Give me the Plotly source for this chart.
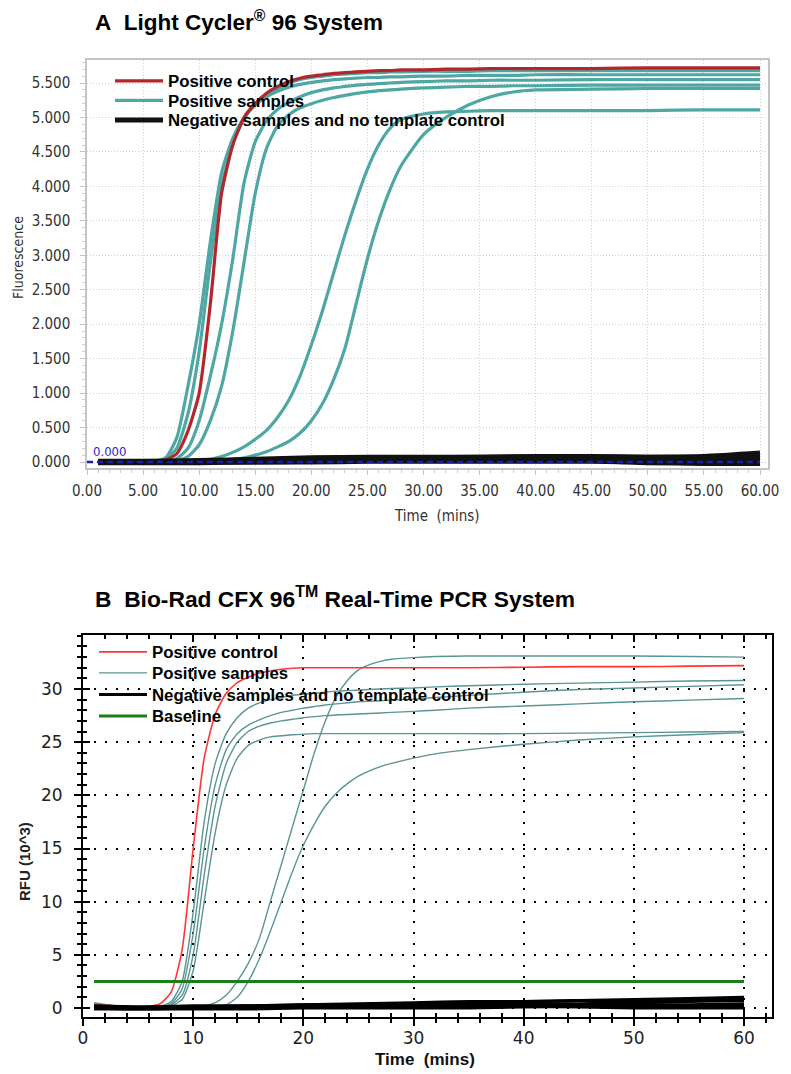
import plotly.graph_objects as go

W, H = 791, 1074
def px(x): return x / W
def py(y): return 1 - y / H

# ---------------- Panel A : Light Cycler 96 (Fluorescence vs time) ----------------
A_time = [1, 3, 5, 6, 7, 8, 9, 10, 11, 12, 13, 14, 15, 16, 17, 18, 19, 20,
          21, 22, 23, 24, 25, 26, 27, 28, 30, 32, 34, 36, 38, 40, 45, 50, 55, 60]
A_positive_control = [0.00, 0.00, 0.00, 0.01, 0.03, 0.12, 0.45, 1.00, 2.30, 3.90, 4.60, 5.00,
                      5.20, 5.35, 5.45, 5.52, 5.57, 5.60, 5.62, 5.64, 5.65, 5.66, 5.67, 5.68,
                      5.68, 5.69, 5.69, 5.70, 5.70, 5.71, 5.71, 5.71, 5.71, 5.72, 5.72, 5.72]
A_pos_1 = [0, 0, 0, 0.01, 0.06, 0.35, 1.10, 2.00, 3.20, 4.20, 4.70, 5.00, 5.20,
           5.33, 5.42, 5.50, 5.55, 5.58, 5.60, 5.62, 5.63, 5.64, 5.65, 5.65, 5.66,
           5.66, 5.67, 5.67, 5.67, 5.68, 5.68, 5.68, 5.68, 5.68, 5.68, 5.68]
A_pos_2 = [0, 0, 0, 0.01, 0.04, 0.20, 0.70, 1.60, 2.90, 4.00, 4.62, 4.98, 5.18,
           5.30, 5.38, 5.44, 5.48, 5.51, 5.53, 5.55, 5.56, 5.57, 5.58, 5.58, 5.59,
           5.59, 5.60, 5.60, 5.61, 5.61, 5.61, 5.62, 5.62, 5.62, 5.62, 5.62]
A_pos_3 = [0, 0, 0, 0, 0.01, 0.05, 0.20, 0.60, 1.25, 2.00, 2.95, 4.05, 4.65,
           4.95, 5.12, 5.22, 5.30, 5.36, 5.40, 5.43, 5.45, 5.47, 5.48, 5.49, 5.50,
           5.51, 5.52, 5.53, 5.53, 5.54, 5.54, 5.54, 5.55, 5.55, 5.55, 5.55]
A_pos_4 = [0, 0, 0, 0, 0, 0.02, 0.08, 0.25, 0.60, 1.10, 1.90, 2.90, 3.90,
           4.55, 4.88, 5.04, 5.14, 5.20, 5.25, 5.29, 5.32, 5.35, 5.37, 5.39, 5.40,
           5.41, 5.43, 5.44, 5.45, 5.45, 5.46, 5.46, 5.47, 5.47, 5.47, 5.47]
A_pos_5 = [0, 0, 0, 0, 0, 0.01, 0.01, 0.02, 0.04, 0.08, 0.14, 0.22, 0.33,
           0.46, 0.65, 0.90, 1.25, 1.70, 2.20, 2.75, 3.30, 3.80, 4.25, 4.60, 4.84,
           4.97, 5.05, 5.08, 5.09, 5.10, 5.10, 5.10, 5.10, 5.10, 5.11, 5.11]
A_pos_6 = [0, 0, 0, 0, 0, 0, 0.01, 0.01, 0.02, 0.02, 0.04, 0.06, 0.10,
           0.15, 0.22, 0.30, 0.42, 0.60, 0.85, 1.20, 1.65, 2.30, 2.95, 3.50, 3.95,
           4.30, 4.75, 5.00, 5.18, 5.30, 5.37, 5.40, 5.41, 5.42, 5.42, 5.42]
A_positive_samples = [A_pos_1, A_pos_2, A_pos_3, A_pos_4, A_pos_5, A_pos_6]

A_neg_time = [1, 5, 10, 15, 20, 25, 30, 35, 40, 45, 50, 55, 60]
A_neg_1 = [0.00, 0.00, 0.01, 0.02, 0.04, 0.05, 0.05, 0.05, 0.06, 0.06, 0.05, 0.05, 0.06]
A_neg_2 = [0.00, 0.00, 0.00, 0.01, 0.02, 0.03, 0.03, 0.04, 0.04, 0.04, 0.03, 0.03, 0.04]
A_neg_3 = [0.01, 0.01, 0.02, 0.04, 0.06, 0.07, 0.07, 0.07, 0.08, 0.08, 0.07, 0.07, 0.09]
A_neg_4 = [-0.01, -0.01, -0.01, 0.00, 0.00, 0.01, 0.01, 0.01, 0.01, 0.01, 0.00, -0.01, 0.00]
A_neg_5 = [0.00, 0.00, 0.01, 0.03, 0.05, 0.06, 0.06, 0.07, 0.07, 0.07, 0.07, 0.08, 0.13]
A_neg_6 = [0.00, 0.00, 0.00, 0.00, 0.01, 0.02, 0.02, 0.02, 0.02, 0.02, -0.01, -0.02, -0.02]
A_negatives = [A_neg_1, A_neg_2, A_neg_3, A_neg_4, A_neg_5, A_neg_6]

A_threshold_time = [0, 60]
A_threshold = [0.0, 0.0]

A_xticks = [0, 5, 10, 15, 20, 25, 30, 35, 40, 45, 50, 55, 60]
A_yticks = [0, 0.5, 1.0, 1.5, 2.0, 2.5, 3.0, 3.5, 4.0, 4.5, 5.0, 5.5]

# ---------------- Panel B : Bio-Rad CFX 96 (RFU x10^3 vs time) ----------------
B_time = [1, 3, 5, 6, 7, 8, 9, 10, 11, 12, 13, 14, 15, 16, 17, 18, 19, 20,
          21, 22, 23, 24, 25, 26, 27, 28, 30, 32, 35, 40, 45, 50, 55, 60]
B_positive_control = [0.3, 0.2, 0.1, 0.15, 0.4, 1.5, 5.5, 15.0, 23.5, 27.6,
                      29.6, 30.6, 31.1, 31.5, 31.7, 31.85, 31.95, 32.0, 32.0, 32.0,
                      32.0, 32.0, 32.0, 32.0, 32.0, 32.0,
                      32.0, 32.0, 32.0, 32.05, 32.1, 32.1, 32.15, 32.2]
B_pos_1 = [0.5, 0.2, 0.05, 0.05, 0.15, 0.6, 2.5, 9.0, 17.5, 23.0,
           25.8, 27.3, 28.2, 28.7, 29.0, 29.2, 29.4, 29.5, 29.6, 29.7,
           29.8, 29.85, 29.9, 29.95, 30.0, 30.05,
           30.1, 30.2, 30.3, 30.45, 30.55, 30.65, 30.75, 30.8]
B_pos_2 = [0.4, 0.15, 0.05, 0.05, 0.1, 0.4, 1.8, 7.0, 15.0, 21.0,
           24.3, 25.8, 26.6, 27.1, 27.5, 27.8, 28.0, 28.2, 28.35, 28.5,
           28.6, 28.7, 28.8, 28.85, 28.9, 28.95,
           29.05, 29.2, 29.4, 29.7, 29.95, 30.1, 30.25, 30.4]
B_pos_3 = [0.4, 0.15, 0.05, 0.05, 0.1, 0.3, 1.2, 5.0, 12.5, 19.0,
           23.0, 25.0, 26.0, 26.5, 26.8, 27.0, 27.15, 27.3, 27.4, 27.5,
           27.55, 27.6, 27.65, 27.7, 27.75, 27.8,
           27.9, 28.0, 28.2, 28.4, 28.6, 28.8, 28.95, 29.1]
B_pos_4 = [0.4, 0.15, 0.05, 0.05, 0.1, 0.2, 0.8, 3.5, 10.0, 16.5,
           21.0, 23.5, 24.7, 25.2, 25.5, 25.6, 25.7, 25.75, 25.8, 25.8,
           25.8, 25.8, 25.8, 25.8, 25.8, 25.8,
           25.8, 25.8, 25.8, 25.8, 25.85, 25.9, 25.95, 26.0]
B_pos_5 = [0.3, 0.1, 0.05, 0.05, 0.05, 0.05, 0.05, 0.1, 0.2, 0.5,
           1.2, 2.5, 4.2, 6.5, 10.0, 13.5, 17.0, 20.5, 24.0, 27.0,
           29.3, 30.8, 31.8, 32.3, 32.6, 32.8,
           32.95, 33.05, 33.1, 33.1, 33.1, 33.1, 33.05, 33.0]
B_pos_6 = [0.3, 0.1, 0.05, 0.05, 0.05, 0.05, 0.05, 0.05, 0.05, 0.1,
           0.3, 1.0, 2.5, 4.6, 7.2, 10.0, 12.8, 15.3, 17.3, 19.0,
           20.2, 21.1, 21.8, 22.3, 22.7, 23.0,
           23.5, 23.9, 24.3, 24.8, 25.2, 25.5, 25.7, 25.9]
B_positive_samples = [B_pos_1, B_pos_2, B_pos_3, B_pos_4, B_pos_5, B_pos_6]

B_neg_time = [1, 5, 10, 15, 20, 25, 30, 35, 40, 45, 50, 55, 60]
B_neg_1 = [0.1, 0.0, 0.1, 0.1, 0.2, 0.2, 0.3, 0.3, 0.4, 0.4, 0.5, 0.6, 0.7]
B_neg_2 = [0.0, -0.1, 0.0, 0.0, 0.1, 0.1, 0.2, 0.2, 0.3, 0.3, 0.3, 0.3, 0.4]
B_neg_3 = [0.2, 0.1, 0.1, 0.2, 0.3, 0.3, 0.4, 0.5, 0.6, 0.7, 0.7, 0.8, 0.9]
B_neg_4 = [-0.1, -0.1, -0.1, -0.1, 0.0, 0.0, 0.0, 0.0, 0.1, 0.1, 0.0, 0.0, 0.0]
B_neg_5 = [0.1, 0.1, 0.2, 0.2, 0.3, 0.4, 0.5, 0.6, 0.6, 0.7, 0.8, 0.9, 1.0]
B_neg_6 = [0.0, 0.0, 0.0, 0.0, 0.1, 0.1, 0.1, 0.1, 0.2, 0.2, 0.2, 0.2, 0.2]
B_negatives = [B_neg_1, B_neg_2, B_neg_3, B_neg_4, B_neg_5, B_neg_6]

B_baseline_time = [1, 60]
B_baseline = [2.5, 2.5]

B_xticks = [0, 10, 20, 30, 40, 50, 60]
B_yticks = [0, 5, 10, 15, 20, 25, 30]

# ---------------- styling ----------------
ARIAL = "Liberation Sans, Arial, sans-serif"
TAHOMA = "DejaVu Sans Condensed, DejaVu Sans, sans-serif"
VERDANA = "DejaVu Sans, Verdana, sans-serif"
RED_A = "#b3262b"
TEAL_A = "#4ea7a3"
RED_B = "#ff3535"
TEAL_B = "#5a9494"
GREEN_B = "#1b7d1b"

fig = go.Figure()

def line_trace(x, y, color, width, name, legend, show, xa, ya, smooth=True):
    return go.Scatter(
        x=x, y=y, mode="lines", name=name, legend=legend, showlegend=show,
        line=dict(color=color, width=width, shape="spline" if smooth else "linear",
                  smoothing=0.6 if smooth else None),
        xaxis=xa, yaxis=ya, hoverinfo="skip")

# Panel A traces
for i, ys in enumerate(A_positive_samples):
    fig.add_trace(line_trace(A_time, ys, TEAL_A, 3.2, "Positive samples", "legend2", i == 0, "x", "y"))
fig.add_trace(line_trace(A_time, A_positive_control, RED_A, 3.2, "Positive control", "legend", True, "x", "y"))
for i, ys in enumerate(A_negatives):
    fig.add_trace(line_trace(A_neg_time, ys, "#111111", 5, "Negative samples and no template control",
                             "legend3", i == 0, "x", "y"))
fig.add_trace(go.Scatter(x=A_threshold_time, y=A_threshold, mode="lines", showlegend=False,
                         line=dict(color="#1c1cb0", width=2.5, dash="6px,4px"),
                         xaxis="x", yaxis="y", hoverinfo="skip"))

# Panel B traces
for i, ys in enumerate(B_positive_samples):
    fig.add_trace(line_trace(B_time, ys, TEAL_B, 1.4, "Positive samples", "legend5", i == 0, "x2", "y2"))
fig.add_trace(line_trace(B_time, B_positive_control, RED_B, 1.6, "Positive control", "legend4", True, "x2", "y2"))
for i, ys in enumerate(B_negatives):
    fig.add_trace(line_trace(B_neg_time, ys, "#000000", 3, "Negative samples and no template control",
                             "legend6", i == 0, "x2", "y2"))
fig.add_trace(line_trace(B_baseline_time, B_baseline, GREEN_B, 3, "Baseline", "legend7", True, "x2", "y2", smooth=False))

# dummy traces for overlay tick axes
fig.add_trace(go.Scatter(x=[None], y=[None], xaxis="x3", yaxis="y3", showlegend=False, hoverinfo="skip"))
fig.add_trace(go.Scatter(x=[None], y=[None], xaxis="x4", yaxis="y4", showlegend=False, hoverinfo="skip"))

# geometry
A_x0px, A_x60px, A_right = 87, 760, 768
A_top, A_bottom, A_y0px, A_y55px = 60, 468, 462, 83
ax_scale = (A_x60px - A_x0px) / 60.0
ay_scale = (A_y0px - A_y55px) / 5.5
A_xrange = [0, (A_right - A_x0px) / ax_scale]
A_yrange = [(A_y0px - A_bottom) / ay_scale, (A_y0px - A_top) / ay_scale]

B_left, B_x60px, B_right = 83, 744, 772
B_top, B_bottom, B_y0px, B_y30px = 635, 1017, 1008, 689
bx_scale = (B_x60px - B_left) / 60.0
by_scale = (B_y0px - B_y30px) / 30.0
B_xrange = [0, (B_right - B_left) / bx_scale]
B_yrange = [(B_y0px - B_bottom) / by_scale, (B_y0px - B_top) / by_scale]

A_dom_x = [px(A_x0px), px(A_right)]
A_dom_y = [py(A_bottom), py(A_top)]
B_dom_x = [px(B_left), px(B_right)]
B_dom_y = [py(B_bottom), py(B_top)]

tickfontA = dict(family=TAHOMA, size=15, color="#333333")
tickfontB = dict(family=VERDANA, size=17, color="#222222")

layout = dict(
    width=W, height=H, margin=dict(l=0, r=0, t=0, b=0, autoexpand=False),
    paper_bgcolor="white", plot_bgcolor="white", showlegend=True,
    xaxis=dict(domain=A_dom_x, anchor="y", range=A_xrange, tickvals=A_xticks, tickformat=".2f",
               tickfont=tickfontA, showline=True, linecolor="#c4c4c4", linewidth=1.5, mirror=True,
               ticks="outside", ticklen=5, tickcolor="#c4c4c4", ticklabelstandoff=3,
               minor=dict(dtick=1, tick0=0, ticks="outside", ticklen=3, tickcolor="#cfcfcf", showgrid=False),
               showgrid=True, gridcolor="#d2d2d2", griddash="1px,2px", gridwidth=1, zeroline=False),
    yaxis=dict(domain=A_dom_y, anchor="x", range=A_yrange, tickvals=A_yticks, tickformat=".3f",
               tickfont=tickfontA, showline=True, linecolor="#c4c4c4", linewidth=1.5, mirror=True,
               ticks="outside", ticklen=5, tickcolor="#c4c4c4", ticklabelstandoff=7,
               minor=dict(dtick=0.1, tick0=0, ticks="outside", ticklen=3, tickcolor="#cfcfcf", showgrid=False),
               showgrid=True, gridcolor="#d2d2d2", griddash="1px,2px", gridwidth=1, zeroline=False),
    xaxis2=dict(domain=B_dom_x, anchor="y2", range=B_xrange, tickvals=B_xticks,
                tickfont=tickfontB, showline=True, linecolor="black", linewidth=2,
                ticks="outside", ticklen=7, tickwidth=1.5, tickcolor="black", ticklabelstandoff=-2,
                minor=dict(dtick=2, tick0=0, ticks="outside", ticklen=4, tickwidth=1.5, tickcolor="black", showgrid=False),
                showgrid=True, gridcolor="black", griddash="2px,9px", gridwidth=1.5, zeroline=False),
    yaxis2=dict(domain=B_dom_y, anchor="x2", range=B_yrange, tickvals=B_yticks,
                tickfont=tickfontB, showline=True, linecolor="black", linewidth=2,
                ticks="outside", ticklen=7, tickwidth=1.5, tickcolor="black", ticklabelstandoff=8,
                minor=dict(dtick=1, tick0=0, ticks="outside", ticklen=4, tickwidth=1.5, tickcolor="black", showgrid=False),
                showgrid=True, gridcolor="black", griddash="2px,9px", gridwidth=1.5, zeroline=False),
    xaxis3=dict(overlaying="x2", anchor="y2", side="bottom", range=B_xrange, tickvals=B_xticks,
                showticklabels=False, showline=False, showgrid=False, zeroline=False,
                ticks="inside", ticklen=7, tickwidth=1.5, tickcolor="black",
                minor=dict(dtick=2, tick0=0, ticks="inside", ticklen=4, tickwidth=1.5, tickcolor="black", showgrid=False)),
    yaxis3=dict(overlaying="y2", anchor="x2", side="left", range=B_yrange, tickvals=B_yticks,
                showticklabels=False, showline=False, showgrid=False, zeroline=False,
                ticks="inside", ticklen=7, tickwidth=1.5, tickcolor="black",
                minor=dict(dtick=1, tick0=0, ticks="inside", ticklen=4, tickwidth=1.5, tickcolor="black", showgrid=False)),
    xaxis4=dict(overlaying="x2", anchor="y2", side="top", range=B_xrange, tickvals=B_xticks,
                showticklabels=False, showline=True, linecolor="black", linewidth=2,
                showgrid=False, zeroline=False,
                ticks="inside", ticklen=7, tickwidth=1.5, tickcolor="black",
                minor=dict(dtick=2, tick0=0, ticks="inside", ticklen=4, tickwidth=1.5, tickcolor="black", showgrid=False)),
    yaxis4=dict(overlaying="y2", anchor="x2", side="right", range=B_yrange,
                showticklabels=False, showline=True, linecolor="black", linewidth=1.5,
                showgrid=False, zeroline=False, ticks=""),
)
for k in ["xaxis", "yaxis", "xaxis2", "yaxis2", "xaxis3", "yaxis3", "xaxis4", "yaxis4"]:
    layout[k]["automargin"] = False

def leg(xp, yp, size=16.8):
    return dict(x=px(xp), y=py(yp), xanchor="left", yanchor="middle", bgcolor="rgba(0,0,0,0)",
                borderwidth=0, itemwidth=48,
                font=dict(family=ARIAL, size=size, color="black", weight="bold"))

layout["legend"] = leg(110, 81)
layout["legend2"] = leg(110, 100.5)
layout["legend3"] = leg(110, 120)
layout["legend4"] = leg(94, 652)
layout["legend5"] = leg(94, 673)
layout["legend6"] = leg(94, 694.5)
layout["legend7"] = leg(94, 716)

annotations = [
    dict(text="<b>A\u00a0 Light Cycler<sup>®</sup> 96 System</b>", x=px(93), y=py(21), xref="paper", yref="paper",
         xanchor="left", yanchor="middle", showarrow=False, font=dict(family=ARIAL, size=22.5, color="black")),
    dict(text="<b>B\u00a0 Bio-Rad CFX 96<sup>TM</sup> Real-Time PCR System</b>", x=px(93), y=py(597),
         xref="paper", yref="paper", xanchor="left", yanchor="middle", showarrow=False,
         font=dict(family=ARIAL, size=22.8, color="black")),
    dict(text="Fluorescence", textangle=-90, x=px(18), y=py(258), xref="paper", yref="paper",
         xanchor="center", yanchor="middle", showarrow=False, font=dict(family=TAHOMA, size=14, color="#333333")),
    dict(text="Time  (mins)", x=px(437), y=py(516), xref="paper", yref="paper",
         xanchor="center", yanchor="middle", showarrow=False, font=dict(family=TAHOMA, size=15, color="#333333")),
    dict(text="0.000", x=0.35, y=0.02, xref="x", yref="y", xanchor="left", yanchor="bottom",
         showarrow=False, font=dict(family=TAHOMA, size=13, color="#2a2ab8")),
    dict(text="<b>RFU (10^3)</b>", textangle=-90, x=px(24), y=py(862), xref="paper", yref="paper",
         xanchor="center", yanchor="middle", showarrow=False, font=dict(family=ARIAL, size=15, color="#222222")),
    dict(text="<b>Time  (mins)</b>", x=px(425), y=py(1059), xref="paper", yref="paper",
         xanchor="center", yanchor="middle", showarrow=False, font=dict(family=ARIAL, size=17, color="#111111")),
]
layout["annotations"] = annotations

fig.update_layout(**layout)
fig.write_html("out.html", config={"displayModeBar": False},
               post_script="document.body.style.margin='0';document.body.style.padding='0';")
